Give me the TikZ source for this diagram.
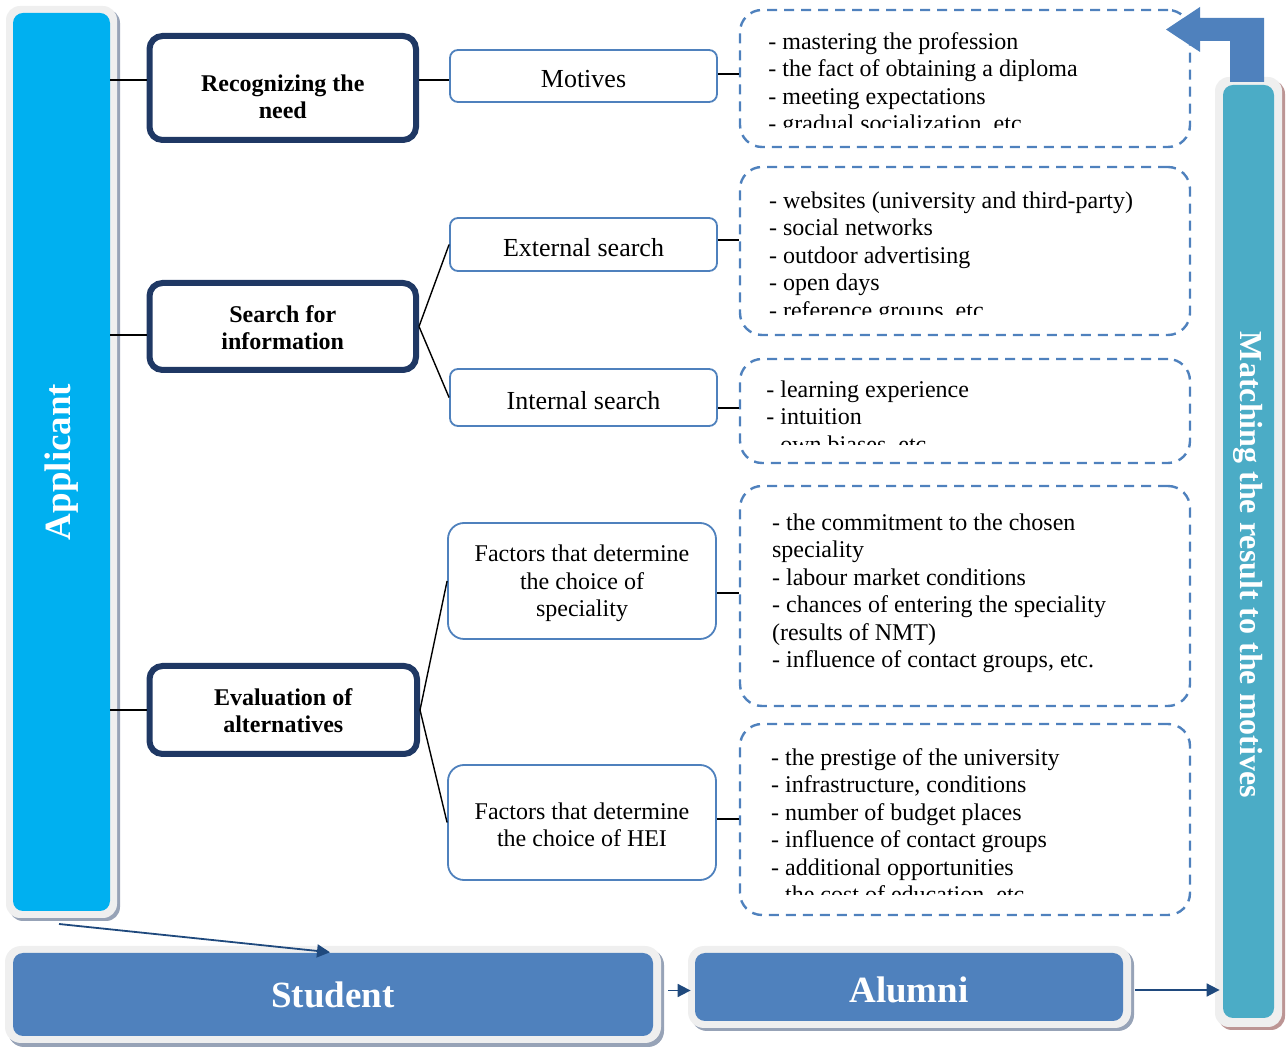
\documentclass[tikz,border=0pt]{standalone}
\usepackage{fontspec}
\setmainfont{Liberation Serif}
\usetikzlibrary{arrows.meta,calc,fit}
\definecolor{cyanA}{HTML}{00B0F0}
\definecolor{blueA}{HTML}{4F81BD}
\definecolor{tealA}{HTML}{4BACC6}
\definecolor{navy}{HTML}{1F3864}
\definecolor{darkblue}{HTML}{1F497D}
\definecolor{framegray}{HTML}{EFEFEF}
\definecolor{shadowgray}{HTML}{97A3B7}
\definecolor{shadowpink}{HTML}{BC9594}
\tikzset{
 ctext/.style 2 args={label={[align=center,#1]center:{#2}}},
 boldfont/.style={font=\fontsize{12}{13.5}\selectfont\bfseries},
 midfont/.style={font=\fontsize{13}{14}\selectfont, yshift=-1.5pt},
 factfont/.style={font=\fontsize{12}{13.75}\selectfont, yshift=-1.25pt},
 bigtext/.style={text=white, font=\fontsize{18.5}{20}\selectfont\bfseries},
 boldbox/.style={draw=navy, line width=3pt, rounded corners=6.5pt, fill=white, inner sep=0pt},
 smallbox/.style={draw=blueA, line width=0.9pt, rounded corners=4pt, fill=white, inner sep=0pt},
 factbox/.style={draw=blueA, line width=0.9pt, rounded corners=8pt, fill=white, inner sep=0pt},
 dashbox/.style={draw=blueA, line width=1.2pt, dash pattern=on 5pt off 3.5pt, rounded corners=11pt, inner sep=0pt},
 listtext/.style={anchor=north west, inner sep=0pt, align=left, font=\fontsize{12}{13.7}\selectfont},
 link/.style={draw=black, line width=0.7pt},
 flow/.style={draw=darkblue, line width=0.9pt, -{Triangle[length=6.5pt,width=6.5pt]}},
 barfill/.style={rounded corners=5pt, inner sep=0pt},
}
\begin{document}
\begin{tikzpicture}[x=0.5pt,y=-0.5pt]
\useasboundingbox (0,0) rectangle (1287,1047);

% ---------- Applicant bar ----------
\fill[shadowgray, rounded corners=7pt] (9,9) rectangle (120,921);
\fill[framegray, rounded corners=7pt] (6,6) rectangle (117,918);
\node[barfill, fill=cyanA, fit={(13,13)(110,911)},
  ctext={rotate=90, bigtext}{Applicant}] (applicant) {};

% ---------- Matching bar ----------
\fill[shadowpink, rounded corners=7pt] (1218,80) rectangle (1285,1030);
\fill[framegray, rounded corners=7pt] (1215,77) rectangle (1282,1027);
\node[barfill, fill=tealA, fit={(1223,85)(1274,1018)},
  ctext={rotate=-90, xshift=6.75pt, text=white, font=\fontsize{16}{18}\selectfont\bfseries}{Matching the result to the motives}] (matching) {};
\fill[blueA] (1264,82) -- (1264,18) -- (1200,18) -- (1200,7) -- (1166,29.5) -- (1200,52) -- (1200,41) -- (1230,41) -- (1230,82) -- cycle;

% ---------- Student / Alumni ----------
\fill[shadowgray, rounded corners=8pt] (8,949) rectangle (664,1047);
\fill[framegray, rounded corners=8pt] (5,946) rectangle (661,1043);
\node[barfill, fill=blueA, fit={(13,953)(653,1036)}, ctext={bigtext}{Student}] (student) {};
\fill[shadowgray, rounded corners=8pt] (691,949) rectangle (1134,1031);
\fill[framegray, rounded corners=8pt] (688,946) rectangle (1131,1028);
\node[barfill, fill=blueA, fit={(695,953)(1123,1021)}, ctext={bigtext, yshift=-1.5pt}{Alumni}] (alumni) {};

% ---------- Stage boxes ----------
\node[boldbox, fit={(149.5,36)(416,140)}, ctext={boldfont, yshift=-4.25pt}{Recognizing the\\need}] (recog) {};
\node[boldbox, fit={(149.5,283)(416,370)}, ctext={boldfont, yshift=-0.75pt}{Search for\\information}] (search) {};
\node[boldbox, fit={(149.5,666)(417,754)}, ctext={boldfont, yshift=-0.5pt}{Evaluation of\\alternatives}] (eval) {};

% ---------- Sub boxes ----------
\node[smallbox, fit={(450,50)(717,102)}, ctext={midfont}{Motives}] (motives) {};
\node[smallbox, fit={(450,218)(717,271)}, ctext={midfont}{External search}] (external) {};
\node[smallbox, fit={(450,369)(717,426)}, ctext={midfont}{Internal search}] (internal) {};
\node[factbox, fit={(448,523)(716,639)}, ctext={factfont}{Factors that determine\\the choice of\\speciality}] (spec) {};
\node[factbox, fit={(448,765)(716,880)}, ctext={factfont}{Factors that determine\\the choice of HEI}] (hei) {};

% ---------- Dashed boxes ----------
\node[dashbox, fit={(740,10)(1190,147)}] (d1) {};
\node[dashbox, fit={(740,167)(1190,335)}] (d2) {};
\node[dashbox, fit={(740,359)(1190,463)}] (d3) {};
\node[dashbox, fit={(740,486)(1190,706)}] (d4) {};
\node[dashbox, fit={(740,724)(1190,915)}] (d5) {};

\begin{scope}
\clip (740,10) rectangle (1190,128);
\node[listtext] (t1) at (768,30) {\strut- mastering the profession\\- the fact of obtaining a diploma\\- meeting expectations\\- gradual socialization, etc};
\end{scope}
\begin{scope}
\clip (740,167) rectangle (1190,315);
\node[listtext] (t2) at (768.7,189) {\strut- websites (university and third-party)\\- social networks\\- outdoor advertising\\- open days\\- reference groups, etc};
\end{scope}
\begin{scope}
\clip (740,359) rectangle (1190,445);
\node[listtext] (t3) at (766,378) {\strut- learning experience\\- intuition\\- own biases, etc};
\end{scope}
\node[listtext] (t4) at (771.7,511) {\strut- the commitment to the chosen\\speciality\\- labour market conditions\\- chances of entering the speciality\\(results of NMT)\\- influence of contact groups, etc.};
\begin{scope}
\clip (740,724) rectangle (1190,895);
\node[listtext] (t5) at (770.7,746) {\strut- the prestige of the university\\- infrastructure, conditions\\- number of budget places\\- influence of contact groups\\- additional opportunities\\- the cost of education, etc};
\end{scope}

% ---------- Connectors ----------
\draw[link] ([yshift=4pt]recog.west -| applicant.east) -- ([yshift=4pt]recog.west);
\draw[link] ([yshift=-4.25pt]search.west -| applicant.east) -- ([yshift=-4.25pt]search.west);
\draw[link] (eval.west -| applicant.east) -- (eval.west);

\draw[link] ([yshift=4pt]recog.east) -- ([yshift=4pt]recog.east -| motives.west);
\draw[link] (search.east) -- (external.west);
\draw[link] (search.east) -- (internal.west);
\draw[link] (eval.east) -- (spec.west);
\draw[link] (eval.east) -- (hei.west);

\draw[link] ([yshift=1pt]motives.east) -- ([yshift=1pt]motives.east -| d1.west);
\draw[link] ([yshift=2.25pt]external.east) -- ([yshift=2.25pt]external.east -| d2.west);
\draw[link] ([yshift=-5.25pt]internal.east) -- ([yshift=-5.25pt]internal.east -| d3.west);
\draw[link] ([yshift=-6pt]spec.east) -- ([yshift=-6pt]spec.east -| d4.west);
\draw[link] ([yshift=1.75pt]hei.east) -- ([yshift=1.75pt]hei.east -| d5.west);

\coordinate (aout) at (59,924);
\draw[flow, shorten >=1.5pt] (aout) -- (student.north);
\draw[flow, shorten <=7.5pt, shorten >=2pt] ([yshift=-1.75pt]student.east |- alumni.west) -- ([yshift=-1.75pt]alumni.west);
\draw[flow, shorten <=6pt, shorten >=1.5pt] ([yshift=-1.5pt]alumni.east) -- ([yshift=-1.5pt]alumni.east -| matching.west);
\end{tikzpicture}
\end{document}
